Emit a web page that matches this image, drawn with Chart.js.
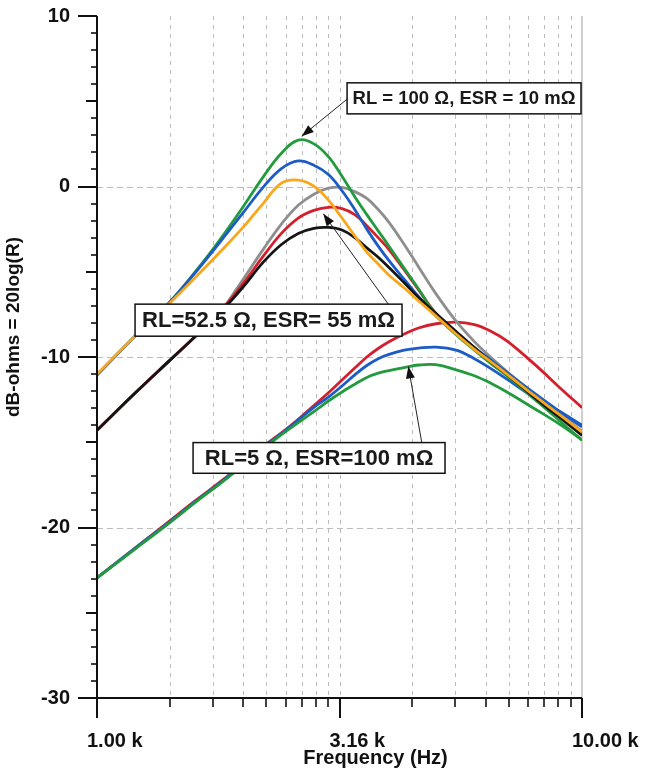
<!DOCTYPE html>
<html>
<head>
<meta charset="utf-8">
<script src="https://cdn.jsdelivr.net/npm/chart.js@4.4.1/dist/chart.umd.min.js"></script>
<style>
  html, body { margin: 0; padding: 0; background: #fff; }
  canvas { display: block; }
</style>
</head>
<body>
<canvas id="myChart" width="649" height="776"></canvas>
<script>
// frequency points (Hz) the curves were read at
const freqs = [1000, 1200, 1400, 1600, 1800, 2000, 2200, 2400, 2600, 2800, 3000, 3200, 3400, 3600, 3800, 4000, 4300, 4600, 5000, 5500, 6000, 6500, 7000, 8000, 9000, 10000]

// RL = 100 ohm, ESR = 10 mohm
const green1  = [-11.05, -8.75, -6.9, -4.95, -3.05, -1.2, 0.55, 1.95, 2.72, 2.5, 1.75, 0.6, -0.6, -1.65, -2.6, -3.5, -4.8, -6.0, -7.55, -8.7, -9.6, -10.4, -11.1, -12.5, -13.75, -14.9]
const blue1   = [-11.05, -8.75, -6.9, -5.0, -3.2, -1.55, -0.05, 1.05, 1.5, 1.25, 0.7, -0.25, -1.35, -2.5, -3.5, -4.35, -5.45, -6.45, -7.6, -8.6, -9.45, -10.2, -10.9, -12.15, -13.2, -14.1]
const orange1 = [-11.0, -8.75, -6.95, -5.3, -3.8, -2.4, -1.0, 0.2, 0.38, 0.02, -0.8, -1.85, -2.9, -3.85, -4.55, -5.2, -5.95, -6.7, -7.6, -8.65, -9.55, -10.3, -11.0, -12.3, -13.4, -14.4]
// RL = 52.5 ohm, ESR = 55 mohm
const gray2   = [-14.3, -12.1, -10.3, -8.75, -7.3, -5.45, -3.7, -2.2, -1.1, -0.45, -0.1, -0.05, -0.3, -0.7, -1.35, -2.1, -3.4, -4.7, -6.3, -7.9, -9.1, -10.05, -10.85, -12.25, -13.35, -14.35]
const red2    = [-14.3, -12.1, -10.3, -8.75, -7.3, -5.7, -4.1, -2.75, -1.85, -1.4, -1.22, -1.3, -1.65, -2.3, -3.0, -3.7, -4.9, -6.05, -7.45, -8.55, -9.5, -10.3, -11.0, -12.35, -13.45, -14.45]
const black2  = [-14.3, -12.1, -10.3, -8.75, -7.35, -5.9, -4.45, -3.4, -2.75, -2.45, -2.4, -2.55, -3.0, -3.6, -4.15, -4.75, -5.65, -6.5, -7.45, -8.5, -9.45, -10.3, -11.0, -12.4, -13.55, -14.6]
// RL = 5 ohm, ESR = 100 mohm
const red3    = [-22.95, -21.2, -19.7, -18.4, -17.3, -16.25, -15.25, -14.45, -13.65, -12.85, -12.1, -11.35, -10.65, -10.0, -9.5, -9.1, -8.65, -8.3, -8.05, -7.95, -8.1, -8.5, -9.05, -10.45, -11.8, -12.97]
const blue3   = [-22.95, -21.2, -19.75, -18.45, -17.35, -16.3, -15.3, -14.5, -13.7, -12.95, -12.35, -11.7, -11.05, -10.5, -10.1, -9.85, -9.6, -9.48, -9.42, -9.6, -10.1, -10.7, -11.3, -12.4, -13.2, -14.0]
const green3  = [-22.95, -21.25, -19.8, -18.5, -17.4, -16.35, -15.4, -14.55, -13.85, -13.2, -12.58, -12.05, -11.6, -11.2, -10.95, -10.8, -10.62, -10.47, -10.45, -10.75, -11.1, -11.55, -12.05, -13.05, -13.95, -14.85]

// axis ticks
const xMajorTicks = [1000, 3162.28, 10000]
const xTickLabels = ['1.00 k', '3.16 k', '10.00 k']
const xMinorTicks = [1414, 1732, 2000, 2236, 2449, 2646, 2828, 3000, 4472, 5477, 6325, 7071, 7746, 8367, 8944, 9487]
const yMajorTicks = [10, 0, -10, -20, -30]
const yMidTicks = [5, -5, -15, -25]
const yGridLines = [0, -10, -20]

// first one is drawn on top
const series = [
  {name: 'orange1', values: orange1, color: '#f8a71c'},
  {name: 'black2', values: black2, color: '#151515'},
  {name: 'green3', values: green3, color: '#239a3e'},
  {name: 'blue1', values: blue1, color: '#1c5cc4'},
  {name: 'green1', values: green1, color: '#239a3e'},
  {name: 'red2', values: red2, color: '#d3202e'},
  {name: 'gray2', values: gray2, color: '#8e8e8e'},
  {name: 'blue3', values: blue3, color: '#1c5cc4'},
  {name: 'red3', values: red3, color: '#d3202e'}
]

// callouts, in data units (Hz, dB)
const notes = [
  {text: 'RL = 100 Ω, ESR = 10 mΩ', box: [3278, 6.08, 9953, 4.26], tail: [3304, 5.2], tip: [2643, 2.95], size: 18.5},
  {text: 'RL=52.5 Ω, ESR= 55 mΩ', box: [1198, -6.9, 4255, -8.78], tail: [3987, -6.9], tip: [2928, -1.6], size: 22},
  {text: 'RL=5 Ω, ESR=100 mΩ', box: [1578, -15.02, 5219, -16.82], tail: [4673, -15.02], tip: [4385, -10.55], size: 22}
]

const FONT = '"Liberation Sans", Arial, sans-serif'

const framePlugin = {
  id: 'frame',
  beforeDatasetsDraw(chart) {
    const {ctx, chartArea: a, scales: {x, y}} = chart
    ctx.save()
    ctx.strokeStyle = '#bcbcbc'
    ctx.lineWidth = 1
    ctx.setLineDash([4, 5])
    xMinorTicks.concat([xMajorTicks[1]]).forEach(v => {
      const px = Math.round(x.getPixelForValue(v)) + 0.5
      ctx.beginPath(); ctx.moveTo(px, a.top); ctx.lineTo(px, a.bottom); ctx.stroke()
    })
    ctx.setLineDash([6, 4])
    yGridLines.forEach(v => {
      const py = Math.round(y.getPixelForValue(v)) + 0.5
      ctx.beginPath(); ctx.moveTo(a.left, py); ctx.lineTo(a.right, py); ctx.stroke()
    })
    ctx.setLineDash([])
    ctx.strokeStyle = '#cfcfcf'
    ctx.lineWidth = 2
    const rx = x.getPixelForValue(10000)
    ctx.beginPath(); ctx.moveTo(rx, a.top); ctx.lineTo(rx, a.bottom); ctx.stroke()
    ctx.restore()
  },
  afterDatasetsDraw(chart) {
    const {ctx, chartArea: a, scales: {x, y}} = chart
    ctx.save()
    ctx.strokeStyle = '#111'
    // axes
    ctx.lineWidth = 2
    ctx.beginPath()
    ctx.moveTo(a.left, a.top); ctx.lineTo(a.left, a.bottom); ctx.lineTo(a.right, a.bottom)
    ctx.stroke()
    // y ticks
    for (let v = -30; v <= 10; v++) {
      const py = Math.round(y.getPixelForValue(v))
      let len = 6
      if (yMajorTicks.includes(v)) len = 19
      else if (yMidTicks.includes(v)) len = 11
      ctx.lineWidth = len > 6 ? 2 : 1.6
      ctx.beginPath(); ctx.moveTo(a.left, py); ctx.lineTo(a.left - len, py); ctx.stroke()
    }
    // x ticks
    ctx.lineWidth = 2
    xMajorTicks.forEach(v => {
      const px = Math.round(x.getPixelForValue(v))
      ctx.beginPath(); ctx.moveTo(px, a.bottom); ctx.lineTo(px, a.bottom + 20); ctx.stroke()
    })
    ctx.lineWidth = 1.6
    xMinorTicks.forEach(v => {
      const px = Math.round(x.getPixelForValue(v))
      ctx.beginPath(); ctx.moveTo(px, a.bottom); ctx.lineTo(px, a.bottom + 9); ctx.stroke()
    })

    // callouts
    notes.forEach(n => {
      const tx = x.getPixelForValue(n.tail[0]), ty = y.getPixelForValue(n.tail[1])
      const hx = x.getPixelForValue(n.tip[0]), hy = y.getPixelForValue(n.tip[1])
      ctx.strokeStyle = '#222'
      ctx.fillStyle = '#111'
      ctx.lineWidth = 1
      ctx.beginPath(); ctx.moveTo(tx, ty); ctx.lineTo(hx, hy); ctx.stroke()
      const ang = Math.atan2(hy - ty, hx - tx)
      const L = 12, W = 4.5
      ctx.beginPath()
      ctx.moveTo(hx, hy)
      ctx.lineTo(hx - L * Math.cos(ang) + W * Math.sin(ang), hy - L * Math.sin(ang) - W * Math.cos(ang))
      ctx.lineTo(hx - L * Math.cos(ang) - W * Math.sin(ang), hy - L * Math.sin(ang) + W * Math.cos(ang))
      ctx.closePath(); ctx.fill()

      const x1 = x.getPixelForValue(n.box[0]), y1 = y.getPixelForValue(n.box[1])
      const x2 = x.getPixelForValue(n.box[2]), y2 = y.getPixelForValue(n.box[3])
      ctx.fillStyle = '#fff'
      ctx.fillRect(x1, y1, x2 - x1, y2 - y1)
      ctx.strokeStyle = '#111'
      ctx.lineWidth = 1.5
      ctx.strokeRect(x1, y1, x2 - x1, y2 - y1)
      ctx.fillStyle = '#1a1a1a'
      ctx.font = 'bold ' + n.size + 'px ' + FONT
      ctx.textAlign = 'center'
      ctx.textBaseline = 'middle'
      ctx.fillText(n.text, (x1 + x2) / 2, (y1 + y2) / 2 + 1)
    })

    // axis titles
    ctx.fillStyle = '#111'
    ctx.font = 'bold 20px ' + FONT
    ctx.textAlign = 'center'
    ctx.textBaseline = 'middle'
    ctx.fillText('Frequency (Hz)', (a.left + a.right) / 2 + 36, a.bottom + 60)
    ctx.translate(14, a.top + 311)
    ctx.rotate(-Math.PI / 2)
    ctx.font = 'bold 19px ' + FONT
    ctx.fillText('dB-ohms = 20log(R)', 0, 0)
    ctx.restore()
  }
}

window.onload = () => {
  const ctx = document.getElementById('myChart')
  new Chart(ctx, {
    type: 'line',
    data: {
      datasets: series.map(s => ({
        label: s.name,
        data: freqs.map((f, i) => ({x: f, y: s.values[i]})),
        borderColor: s.color,
        borderWidth: 2.8,
        pointRadius: 0,
        tension: 0.4,
        fill: false
      }))
    },
    options: {
      responsive: false,
      animation: false,
      devicePixelRatio: 1,
      layout: {padding: {top: 16, right: 67, bottom: 0, left: 0}},
      plugins: {legend: {display: false}, tooltip: {enabled: false}},
      scales: {
        x: {
          type: 'logarithmic',
          min: 1000,
          max: 10000,
          grid: {display: false, drawTicks: false},
          border: {display: false},
          afterBuildTicks: s => { s.ticks = xMajorTicks.map(v => ({value: v})) },
          afterFit: s => { s.height = 78; s.paddingLeft = 0; s.paddingRight = 0 },
          ticks: {
            autoSkip: false, maxRotation: 0, minRotation: 0,
            align: 'start', labelOffset: -10, padding: 31,
            color: '#111', font: {size: 20, weight: 'bold', family: FONT},
            callback: (v, i) => xTickLabels[i]
          }
        },
        y: {
          min: -30,
          max: 10,
          grid: {display: false, drawTicks: false},
          border: {display: false},
          afterBuildTicks: s => { s.ticks = yMajorTicks.map(v => ({value: v})) },
          afterFit: s => { s.width = 97; s.paddingTop = 0; s.paddingBottom = 0 },
          ticks: {
            autoSkip: false, padding: 27,
            color: '#111', font: {size: 20, weight: 'bold', family: FONT},
            callback: v => String(v)
          }
        }
      }
    },
    plugins: [framePlugin]
  })
}
</script>
</body>
</html>
